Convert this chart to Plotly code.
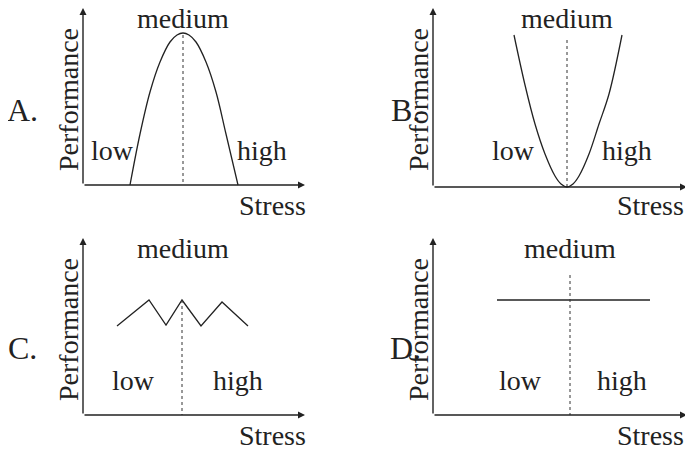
import plotly.graph_objects as go

# Panel A: inverted-U curve (pixel space of the diagram)
a_x = [130, 140, 150, 160, 170, 177, 183, 189, 196, 206, 216, 226, 238]
a_y = [185, 134, 92, 62, 42, 35, 33, 35, 42, 62, 92, 134, 185]
# Panel B: U curve
b_x = [514, 525, 535, 545, 555, 561, 567, 573, 579, 589, 599, 609, 622]
b_y = [35, 85, 124, 154, 176, 184, 187, 184, 176, 154, 124, 94, 35]
# Panel C: zigzag
c_x = [117, 149, 166, 182, 201, 222, 248]
c_y = [326, 300, 325, 300, 326, 302, 326]
# Panel D: flat line
d_x = [497, 650]
d_y = [300, 300]

panels = [
    dict(ox=83, oy=185, top=8, xend=305, dx=183, dtop=35, letter="A.", lp=(22, 110),
         med=(183, 18), low=(112, 150), high=(262, 150), stress=(272, 205), perf=(68, 100)),
    dict(ox=433, oy=187, top=8, xend=687, dx=567, dtop=40, letter="B.", lp=(405, 110),
         med=(567, 18), low=(513, 150), high=(627, 150), stress=(650, 205), perf=(450, 100)),
    dict(ox=83, oy=415, top=238, xend=305, dx=182, dtop=300, letter="C.", lp=(22, 348),
         med=(183, 248), low=(133, 380), high=(238, 380), stress=(272, 435), perf=(68, 330)),
    dict(ox=433, oy=415, top=238, xend=687, dx=570, dtop=275, letter="D.", lp=(405, 348),
         med=(570, 248), low=(520, 380), high=(622, 380), stress=(650, 435), perf=(418, 330)),
]
panels[1]["perf"] = (418, 100)

fig = go.Figure()
for xs, ys in [(a_x, a_y), (b_x, b_y), (c_x, c_y), (d_x, d_y)]:
    fig.add_trace(go.Scatter(x=xs, y=ys, mode="lines", line=dict(color="#222", width=1.3),
                             line_shape="spline" if len(xs) > 7 else "linear", showlegend=False,
                             hoverinfo="skip"))

font = dict(family="Liberation Serif", size=28, color="#222")
for p in panels:
    for (x0, y0, x1, y1) in [(p["ox"], p["oy"], p["ox"], p["top"]), (p["ox"], p["oy"], p["xend"], p["oy"])]:
        fig.add_annotation(x=x1, y=y1, ax=x0, ay=y0, xref="x", yref="y", axref="x", ayref="y",
                           showarrow=True, arrowhead=2, arrowsize=1, arrowwidth=1.4, arrowcolor="#222", text="")
    fig.add_shape(type="line", x0=p["dx"], x1=p["dx"], y0=p["dtop"], y1=p["oy"],
                  line=dict(color="#333", width=1, dash="dot"))
    fig.add_annotation(x=p["lp"][0], y=p["lp"][1], text=p["letter"], showarrow=False,
                       font=dict(family="Liberation Serif", size=32, color="#222"))
    for key, txt in [("med", "medium"), ("low", "low"), ("high", "high"), ("stress", "Stress")]:
        fig.add_annotation(x=p[key][0], y=p[key][1], text=txt, showarrow=False, font=font)
    fig.add_annotation(x=p["perf"][0], y=p["perf"][1], text="Performance", showarrow=False,
                       textangle=-90, font=font)

# page body has an 8px margin, so offset the ranges to keep page-pixel placement
fig.update_xaxes(range=[8, 701], visible=False)
fig.update_yaxes(range=[457, 8], visible=False)
fig.update_layout(width=693, height=449, margin=dict(l=0, r=0, t=0, b=0),
                  plot_bgcolor="white", paper_bgcolor="white")
fig.write_html("out.html")
